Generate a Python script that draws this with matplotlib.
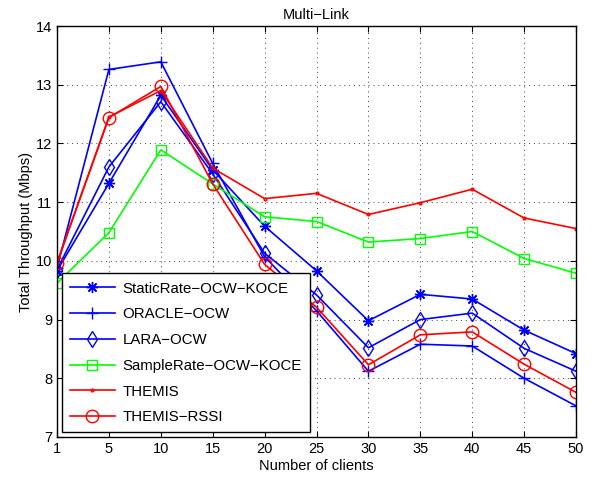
import matplotlib
matplotlib.use('Agg')
import matplotlib.pyplot as plt
import numpy as np

plt.rcParams['font.family'] = ['Liberation Sans', 'DejaVu Sans']

clients = [1, 5, 10, 15, 20, 25, 30, 35, 40, 45, 50]
static_rate = [9.83, 11.32, 12.82, 11.55, 10.59, 9.83, 8.98, 9.43, 9.35, 8.82, 8.42]
oracle = [9.88, 13.26, 13.39, 11.66, 10.07, 9.15, 8.12, 8.58, 8.55, 8.00, 7.53]
lara = [9.85, 11.60, 12.71, 11.48, 10.13, 9.42, 8.52, 9.00, 9.11, 8.51, 8.12]
sample_rate = [9.62, 10.48, 11.89, 11.31, 10.75, 10.67, 10.32, 10.38, 10.50, 10.04, 9.79]
themis = [9.97, 12.45, 12.90, 11.58, 11.06, 11.15, 10.79, 10.99, 11.22, 10.73, 10.55]
themis_rssi = [9.96, 12.44, 12.97, 11.31, 9.94, 9.21, 8.23, 8.74, 8.79, 8.24, 7.76]

series = [
    ('StaticRate\u2212OCW\u2212KOCE', static_rate, 'b', (8, 2, 0), 8),
    ('ORACLE\u2212OCW', oracle, 'b', '+', 9),
    ('LARA\u2212OCW', lara, 'b', 'd', 8),
    ('SampleRate\u2212OCW\u2212KOCE', sample_rate, '#00ff00', 's', 7),
    ('THEMIS', themis, 'r', '.', 4),
    ('THEMIS\u2212RSSI', themis_rssi, 'r', 'o', 9),
]

fig = plt.figure(figsize=(5.92, 4.79), dpi=100)
ax = fig.add_axes([0.0963, 0.0877, 0.8767, 0.858])

x = np.arange(len(clients))
for label, vals, col, mk, ms in series:
    ax.plot(x, vals, color=col, marker=mk, markersize=ms, markerfacecolor='none',
            markeredgecolor=col, markeredgewidth=1.0, linewidth=1.2, label=label)

ax.set_xlim(0, len(clients) - 1)
ax.set_ylim(7, 14)
ax.set_xticks(x)
ax.set_xticklabels([str(c) for c in clients])
ax.set_yticks(np.arange(7, 15, 1))
ax.tick_params(direction='in', top=True, right=True, labelsize=10.5, length=4)
ax.grid(True, linestyle=(0, (1, 4)), color='#404040', linewidth=0.7)
for s in ax.spines.values():
    s.set_linewidth(1.0)

ax.set_xlabel('Number of clients', fontsize=10.5, labelpad=2)
ax.set_ylabel('Total Throughput (Mbps)', fontsize=10.5, labelpad=2)
ax.set_title('Multi\u2212Link', fontsize=10.5, pad=5)

leg = ax.legend(loc='lower left', bbox_to_anchor=(0.0, 0.0), fontsize=10.8,
                fancybox=False, framealpha=1, edgecolor='black', borderaxespad=0.3,
                borderpad=0.55, handlelength=3.0, handletextpad=0.5, labelspacing=0.78)
leg.get_frame().set_linewidth(1.0)

fig.savefig('out.png', dpi=100)
